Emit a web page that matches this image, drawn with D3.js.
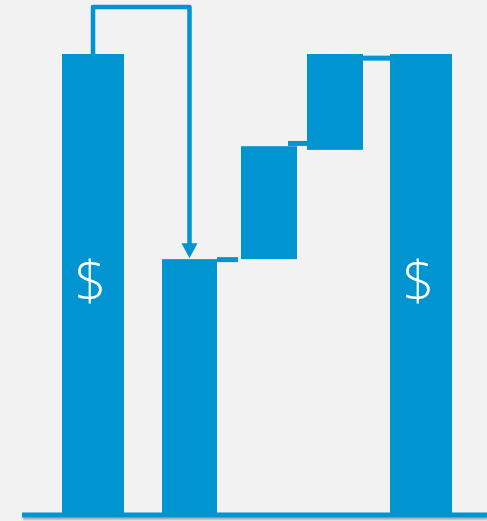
<html>
<head>
<style>
/*page and chart styling*/
body { margin:0; background:#f2f2f2; }
.bar { fill:#0094d0; }
.link { stroke:#0094d0; stroke-width:5; }
.arrow { stroke:#0094d0; stroke-width:4.5; fill:none; stroke-linejoin:round; }
.label { fill:#fff; font-family:"Open Sans"; font-weight:300; font-size:56px; }
</style>
</head>
<body>
<script src="https://d3js.org/d3.v7.min.js"></script>
<script>
//waterfall data: each step starts at one value and ends at another
var categories = ["Start", "Drop", "Gain A", "Gain B", "End"];
var startValues = [0, 0, 55.5, 79.2, 0];
var endValues = [100, 55.5, 80, 100, 100];
var labels = ["$", "", "", "", "$"];
//levels of the small connector lines between steps
var linkValues = [55.4, 80.6, 99.1];
//top of the arrow that runs from the first bar to the second
var arrowTopValue = 110.2;

var width = 487, height = 521;

var svg = d3.select("body").append("svg")
    .attr("width", width)
    .attr("height", height);

//y scale: value 0 on the base line, 100 at the top of the total bars
var y = d3.scaleLinear().domain([0, 100]).range([515, 54]);
//bars sit at uneven places in the picture, so an ordinal scale holds the centres and widths
var xc = d3.scaleOrdinal().domain(categories).range([93, 189.5, 269, 335, 421]);
var bw = d3.scaleOrdinal().domain(categories).range([62, 55, 56, 56, 62]);

var steps = categories.map(function(c, i){
    return {cat:c, lo:Math.min(startValues[i], endValues[i]), hi:Math.max(startValues[i], endValues[i]), label:labels[i]};
});

var defs = svg.append("defs");
var f = defs.append("filter").attr("id", "shadow").attr("x", "-5%").attr("y", "-100%").attr("width", "110%").attr("height", "400%");
f.append("feDropShadow").attr("dx", 1).attr("dy", 2).attr("stdDeviation", 1.2).attr("flood-color", "#000").attr("flood-opacity", 0.35);

//bars
svg.selectAll("rect.bar").data(steps).enter().append("rect")
    .attr("class", "bar")
    .attr("x", function(d){ return xc(d.cat) - bw(d.cat) / 2; })
    .attr("width", function(d){ return bw(d.cat); })
    .attr("y", function(d){ return y(d.hi); })
    .attr("height", function(d){ return y(d.lo) - y(d.hi); });

//connectors from one step to the next
svg.selectAll("line.link").data(linkValues).enter().append("line")
    .attr("class", "link")
    .attr("x1", function(d, i){ var c = categories[i + 1]; return xc(c) + bw(c) / 2 - (i == 1 ? 9 : 0); })
    .attr("x2", function(d, i){ var c = categories[i + 2]; return xc(c) - bw(c) / 2 - (i == 0 ? 3 : 0); })
    .attr("y1", function(d){ return y(d); })
    .attr("y2", function(d){ return y(d); });

//dollar labels
svg.selectAll("text.label").data(steps.filter(function(d){ return d.label; })).enter().append("text")
    .attr("class", "label")
    .attr("x", function(d){ return xc(d.cat) - 2.5; })
    .attr("y", y(50) - 7)
    .attr("text-anchor", "middle")
    .attr("dominant-baseline", "central")
    .text(function(d){ return d.label; });

//arrow from the first total down to the second bar
var ax1 = xc(categories[0]), ax2 = xc(categories[1]);
var tip = y(endValues[1]) - 1;
svg.append("path")
    .attr("class", "arrow")
    .attr("d", "M" + ax1 + "," + y(endValues[0]) + "V" + y(arrowTopValue) + "H" + ax2 + "V" + (tip - 12));
svg.append("path")
    .attr("fill", "#0094d0")
    .attr("d", "M" + (ax2 - 8) + "," + (tip - 15) + "L" + (ax2 + 8) + "," + (tip - 15) + "L" + ax2 + "," + tip + "Z");

//base line with a light shadow
svg.append("rect")
    .attr("x", 22).attr("width", width - 22)
    .attr("y", y(0) - 2.5).attr("height", 5)
    .attr("fill", "#0094d0")
    .attr("filter", "url(#shadow)");
</script>
</body>
</html>
